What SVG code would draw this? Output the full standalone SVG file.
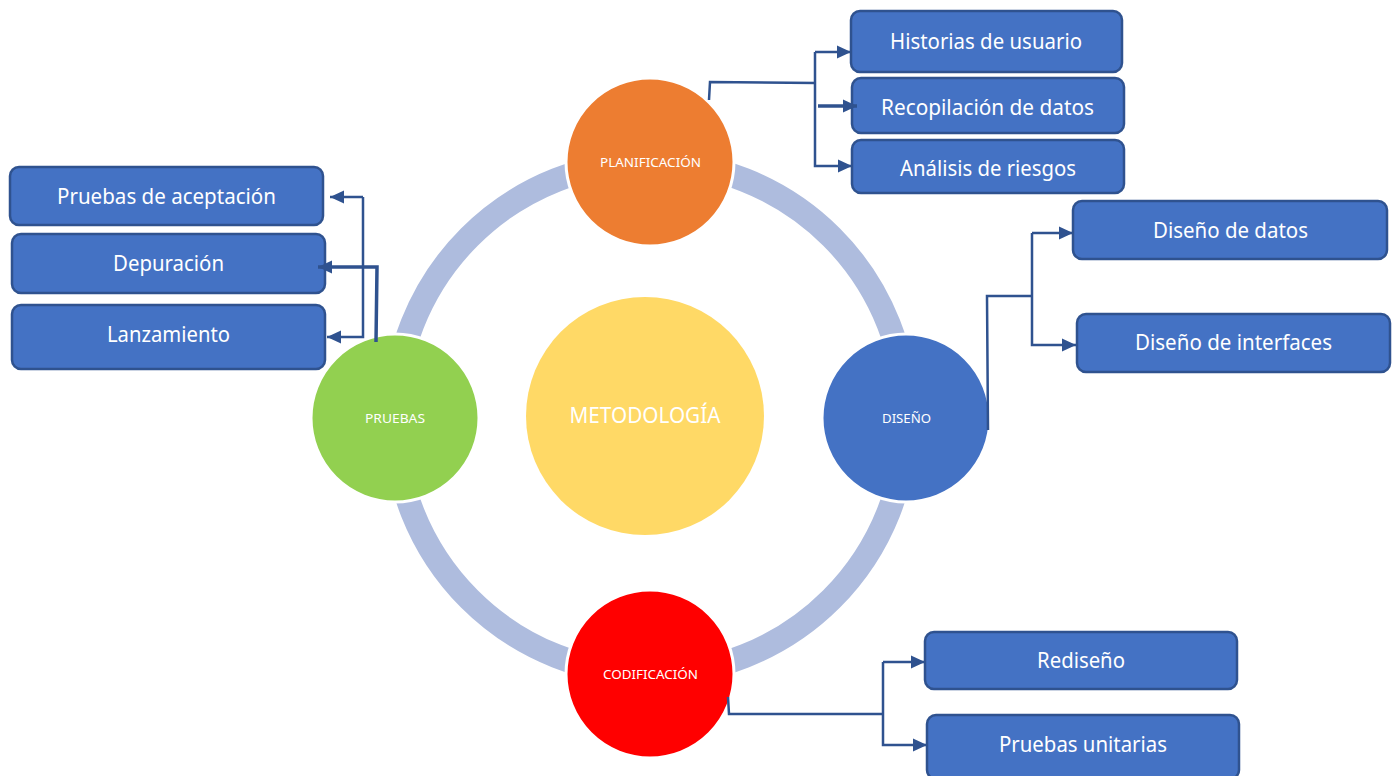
<svg xmlns="http://www.w3.org/2000/svg" width="1397" height="776" viewBox="0 0 1397 776">
<style>
.box{fill:#4472C4;stroke:#2F528F;stroke-width:2.5}
.bt{font-family:"Noto Sans","Liberation Sans",sans-serif;font-size:21px;fill:#fff;text-anchor:middle}
.ct{font-family:"Noto Sans","Liberation Sans",sans-serif;font-size:13px;fill:#fff;text-anchor:middle}
.circ{stroke:#fff;stroke-width:3}
.con{fill:none;stroke:#2F528F;stroke-width:2.5}
</style>
<defs>
<marker id="ah" markerUnits="userSpaceOnUse" markerWidth="16" markerHeight="16" refX="14" refY="8" orient="auto">
<path d="M0,1.5 L14,8 L0,14.5 Z" fill="#2F528F"/>
</marker>
</defs>
<rect width="1397" height="776" fill="#fff"/>
<circle cx="650.5" cy="418" r="256" fill="none" stroke="#AEBCDE" stroke-width="24"/>
<g id="metodologia">
<circle cx="645" cy="416" r="119" fill="#FFD966"/>
<text x="645" y="423" class="bt" style="font-size:22px" textLength="151" lengthAdjust="spacingAndGlyphs">METODOLOGÍA</text>
</g>
<g id="planificacion">
<circle class="circ" cx="650" cy="162" r="84" fill="#ED7D31"/>
<text x="650.5" y="167" class="ct" textLength="101" lengthAdjust="spacingAndGlyphs">PLANIFICACIÓN</text>
</g>
<g id="diseno">
<circle class="circ" cx="906" cy="418" r="84" fill="#4472C4"/>
<text x="906.5" y="423" class="ct" textLength="49" lengthAdjust="spacingAndGlyphs">DISEÑO</text>
</g>
<g id="codificacion">
<circle class="circ" cx="650" cy="674" r="84" fill="#FF0000"/>
<text x="650.5" y="679" class="ct" textLength="95" lengthAdjust="spacingAndGlyphs">CODIFICACIÓN</text>
</g>
<g id="pruebas">
<circle class="circ" cx="395" cy="418" r="84" fill="#92D050"/>
<text x="395" y="423" class="ct" textLength="60" lengthAdjust="spacingAndGlyphs">PRUEBAS</text>
</g>
<g id="historias"><rect class="box" x="851" y="11" width="271" height="61" rx="9"/><text class="bt" x="986" y="49" textLength="192" lengthAdjust="spacingAndGlyphs">Historias de usuario</text></g>
<g id="recopilacion"><rect class="box" x="852" y="78" width="272" height="55" rx="9"/><text class="bt" x="987.5" y="115" textLength="213" lengthAdjust="spacingAndGlyphs">Recopilación de datos</text></g>
<g id="analisis"><rect class="box" x="852" y="140" width="272" height="53" rx="9"/><text class="bt" x="988" y="176" textLength="176" lengthAdjust="spacingAndGlyphs">Análisis de riesgos</text></g>
<g id="aceptacion"><rect class="box" x="10" y="167" width="313" height="58" rx="9"/><text class="bt" x="166.5" y="204" textLength="219" lengthAdjust="spacingAndGlyphs">Pruebas de aceptación</text></g>
<g id="depuracion"><rect class="box" x="12" y="234" width="313" height="59" rx="9"/><text class="bt" x="168.5" y="271" textLength="111" lengthAdjust="spacingAndGlyphs">Depuración</text></g>
<g id="lanzamiento"><rect class="box" x="12" y="305" width="313" height="64" rx="9"/><text class="bt" x="168.5" y="342" textLength="123" lengthAdjust="spacingAndGlyphs">Lanzamiento</text></g>
<g id="disenodatos"><rect class="box" x="1073" y="201" width="314" height="58" rx="9"/><text class="bt" x="1230.5" y="238" textLength="155" lengthAdjust="spacingAndGlyphs">Diseño de datos</text></g>
<g id="disenointerfaces"><rect class="box" x="1077" y="314" width="313" height="58" rx="9"/><text class="bt" x="1233.5" y="350" textLength="197" lengthAdjust="spacingAndGlyphs">Diseño de interfaces</text></g>
<g id="rediseno"><rect class="box" x="925" y="632" width="312" height="57" rx="9"/><text class="bt" x="1081" y="668" textLength="88" lengthAdjust="spacingAndGlyphs">Rediseño</text></g>
<g id="unitarias"><rect class="box" x="927" y="715" width="312" height="64" rx="9"/><text class="bt" x="1083" y="752" textLength="168" lengthAdjust="spacingAndGlyphs">Pruebas unitarias</text></g>
<g id="connectors">
<path class="con" d="M709,100 L710,82 L816,83"/>
<path class="con" d="M815,52 L815,166 L852,166" marker-end="url(#ah)"/>
<path class="con" d="M815,52 L851,52" marker-end="url(#ah)"/>
<path class="con" d="M818,106 L857,106" style="stroke-width:3.5" marker-end="url(#ah)"/>
<path class="con" d="M988,430 L987,296 L1032,296"/>
<path class="con" d="M1032,233 L1032,345 L1076,345" marker-end="url(#ah)"/>
<path class="con" d="M1032,233 L1073,233" marker-end="url(#ah)"/>
<path class="con" d="M728,697 L729,714 L883,714"/>
<path class="con" d="M883,662 L883,745 L927,745" marker-end="url(#ah)"/>
<path class="con" d="M883,662 L925,662" marker-end="url(#ah)"/>
<path class="con" d="M363,197 L363,337 L327,337" marker-end="url(#ah)"/>
<path class="con" d="M363,197 L330,197" marker-end="url(#ah)"/>
<path class="con" d="M376,342 L377,267 L318,267" style="stroke-width:3.5" marker-end="url(#ah)"/>
</g>
</svg>
